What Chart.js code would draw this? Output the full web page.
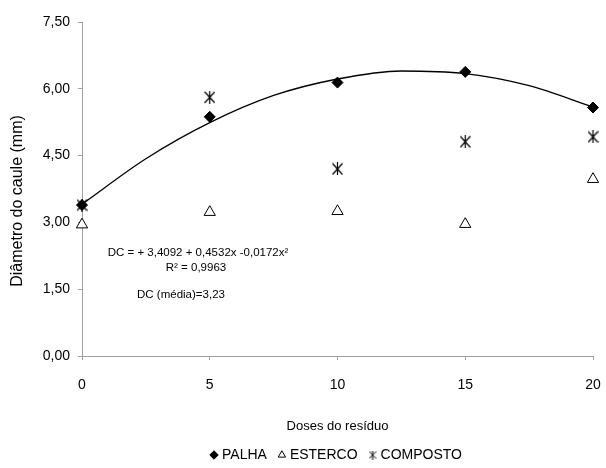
<!DOCTYPE html>
<html>
<head>
<meta charset="utf-8">
<script src="https://cdn.jsdelivr.net/npm/chart.js@4.4.0/dist/chart.umd.min.js"></script>
<style>
  html, body { margin: 0; padding: 0; background: #fff; }
  #wrap { width: 606px; height: 468px; }
</style>
</head>
<body>
<div id="wrap"><canvas id="chart"></canvas></div>
<script>
// doses e médias
const doses    = [0, 5, 10, 15, 20];
const palha    = [3.39, 5.37, 6.14, 6.38, 5.58];
const esterco  = [2.95, 3.23, 3.25, 2.96, 3.97];
const composto = [3.39, 5.81, 4.20, 4.81, 4.92];

// linha de tendência (PALHA), pontos lidos sobre a curva
const curveX = [0, 2.5, 5, 7.5, 10, 12.5, 15, 17.5, 20];
const curveY = [3.41, 4.43, 5.24, 5.85, 6.22, 6.40, 6.34, 6.07, 5.59];

const seriesNames = ['PALHA', 'ESTERCO', 'COMPOSTO'];
const notes = ['DC = + 3,4092 + 0,4532x -0,0172x²', 'R² = 0,9963', 'DC (média)=3,23'];

const font = '"Liberation Sans", Arial, sans-serif';
const axisGrey = '#a0a0a0';

// marcador tipo asterisco (X com traço vertical)
function asterisk(w, h, lw) {
  const c = document.createElement('canvas');
  c.width = w; c.height = h;
  const g = c.getContext('2d');
  g.strokeStyle = '#000';
  g.lineWidth = lw;
  g.beginPath();
  g.moveTo(w / 2, 0); g.lineTo(w / 2, h);
  g.moveTo(0.5, 1); g.lineTo(w - 0.5, h - 1);
  g.moveTo(w - 0.5, 1); g.lineTo(0.5, h - 1);
  g.stroke();
  return c;
}
const starBig = asterisk(11, 13, 1.2);
const starSmall = asterisk(8, 9, 1);

const pts = arr => doses.map((x, i) => ({ x, y: arr[i] }));

// textos da equação e título do eixo y
const annotations = {
  id: 'annotations',
  afterDraw(chart) {
    const { ctx, chartArea } = chart;
    ctx.save();
    ctx.fillStyle = '#000';
    ctx.textAlign = 'center';
    ctx.textBaseline = 'middle';
    ctx.font = '11.5px ' + font;
    const l = chartArea.left;
    ctx.fillText(notes[0], l + 116, 253);
    ctx.fillText(notes[1], l + 114, 268);
    ctx.fillText(notes[2], l + 99, 295);

    ctx.translate(18, 201);
    ctx.rotate(-Math.PI / 2);
    ctx.font = '16px ' + font;
    ctx.fillText('Diâmetro do caule (mm)', 0, 0);
    ctx.restore();
  }
};

new Chart(document.getElementById('chart'), {
  type: 'scatter',
  data: {
    datasets: [
      {
        label: seriesNames[0],
        data: pts(palha),
        pointStyle: 'rectRot',
        pointRadius: 5.5,
        backgroundColor: '#000',
        borderColor: '#000',
        borderWidth: 1,
        clip: false
      },
      {
        label: seriesNames[1],
        data: pts(esterco),
        pointStyle: 'triangle',
        pointRadius: 6.5,
        backgroundColor: '#fff',
        borderColor: '#000',
        borderWidth: 1,
        clip: false
      },
      {
        label: seriesNames[2],
        data: pts(composto),
        pointStyle: starBig,
        pointRadius: 6,
        backgroundColor: '#000',
        borderColor: '#000',
        clip: false
      },
      {
        type: 'line',
        label: 'tendencia',
        data: curveX.map((x, i) => ({ x, y: curveY[i] })),
        borderColor: '#000',
        borderWidth: 1.3,
        pointRadius: 0,
        fill: false,
        clip: false,
        cubicInterpolationMode: 'monotone'
      }
    ]
  },
  options: {
    responsive: true,
    maintainAspectRatio: false,
    animation: false,
    layout: { padding: { top: 22, right: 13, left: 0, bottom: 0 } },
    plugins: {
      tooltip: { enabled: false },
      legend: {
        position: 'bottom',
        fullSize: false,
        maxHeight: 34,
        labels: {
          usePointStyle: true,
          boxWidth: 2,
          boxHeight: 6,
          padding: 14,
          color: '#000',
          font: { family: font, size: 14 },
          filter: item => item.datasetIndex < 3,
          generateLabels(chart) {
            const items = Chart.defaults.plugins.legend.labels.generateLabels(chart);
            items.forEach(it => { if (it.datasetIndex === 2) it.pointStyle = starSmall; });
            return items;
          }
        }
      }
    },
    scales: {
      x: {
        type: 'linear',
        min: 0,
        max: 20,
        ticks: { stepSize: 5, color: '#000', padding: 17, font: { family: font, size: 14 } },
        grid: { drawOnChartArea: false, drawTicks: true, tickLength: 4, color: axisGrey },
        border: { color: axisGrey, width: 1 },
        title: {
          display: true,
          text: 'Doses do resíduo',
          color: '#000',
          font: { family: font, size: 13 },
          padding: { top: 0, bottom: 0 }
        },
        afterFit(scale) {
          scale.height = 78;
          scale.paddingLeft = 0;
          scale.paddingRight = 13;
        }
      },
      y: {
        min: 0,
        max: 7.5,
        ticks: {
          stepSize: 1.5,
          color: '#000',
          padding: 8,
          font: { family: font, size: 14 },
          callback: v => v.toFixed(2).replace('.', ',')
        },
        grid: { drawOnChartArea: false, drawTicks: true, tickLength: 4, color: axisGrey },
        border: { color: axisGrey, width: 1 },
        afterFit(scale) { scale.width = 82; }
      }
    }
  },
  plugins: [annotations]
});
</script>
</body>
</html>
